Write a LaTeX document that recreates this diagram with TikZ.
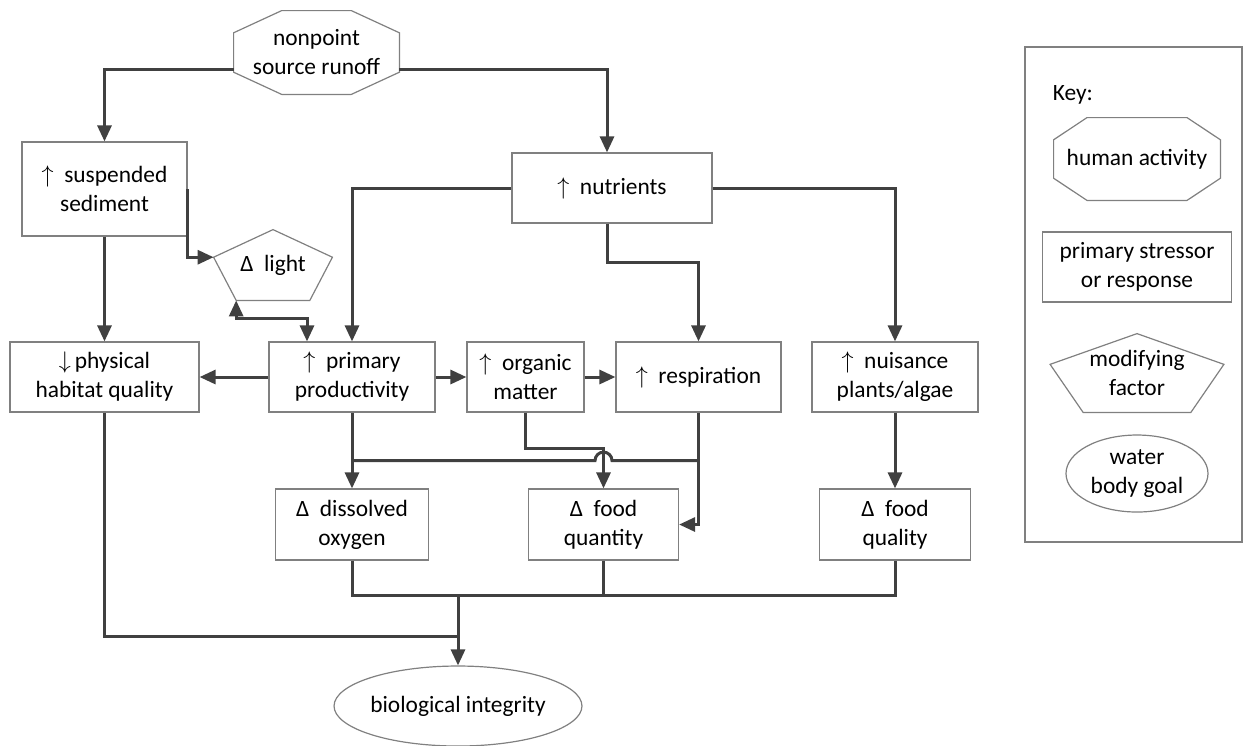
\documentclass[tikz,border=0pt]{standalone}
\usepackage{fontspec}
\setmainfont{Carlito}
\usepackage{tikz}
\usetikzlibrary{shapes,arrows,arrows.meta,calc,positioning}
\definecolor{linegray}{HTML}{404040}
\definecolor{framegray}{HTML}{808080}
\tikzstyle{Box} = [rectangle, minimum height=35pt, inner sep=0pt, draw=framegray, line width=0.6pt]
\tikzstyle{Oval} = [ellipse, inner sep=0pt, draw=framegray, line width=0.6pt]
\tikzstyle{Plain} = [rectangle, inner sep=0pt]
\tikzstyle{Frame} = [draw=framegray, line width=0.6pt]
\tikzstyle{line} = [line width=1.5pt, draw=linegray]
\tikzstyle{arrow} = [line, -{Triangle[length=8pt,width=7pt]}]
\tikzstyle{biarrow} = [line, {Triangle[length=8pt,width=7pt]}-{Triangle[length=8pt,width=7pt]}]
% pentagon outline round a plain node
\newcommand{\pentframe}[1]{
\coordinate (#1-t) at (#1.north);
\coordinate (#1-l) at ($(#1.north west)!0.39!(#1.south west)$);
\coordinate (#1-r) at ($(#1.north east)!0.39!(#1.south east)$);
\coordinate (#1-bl) at ($(#1.south west)!0.19!(#1.south east)$);
\coordinate (#1-br) at ($(#1.south east)!0.19!(#1.south west)$);
\draw[Frame](#1-t)--(#1-r)--(#1-br)--(#1-bl)--(#1-l)--cycle;
}
% octagon outline round a plain node: node, part cut in x, part cut in y
\newcommand{\octframe}[3]{
\draw[Frame]($(#1.north west)!#2!(#1.north east)$)--($(#1.north east)!#2!(#1.north west)$)
--($(#1.north east)!#3!(#1.south east)$)--($(#1.south east)!#3!(#1.north east)$)
--($(#1.south east)!#2!(#1.south west)$)--($(#1.south west)!#2!(#1.south east)$)
--($(#1.south west)!#3!(#1.north west)$)--($(#1.north west)!#3!(#1.south west)$)--cycle;
}

\begin{document}
\begin{tikzpicture}[every text node part/.style={align=center}, font=\fontsize{11.7}{14.5}\selectfont]
\useasboundingbox (0,0) rectangle (621.5pt,-372.5pt);

\node (Runoff)[Plain, minimum width=82.5pt, minimum height=41.5pt] at (158.25pt,-26.25pt){nonpoint\\source runoff};
\octframe{Runoff}{0.29}{0.265}
\node (Sediment)[Box, minimum width=82.5pt, minimum height=47pt, below of = Runoff, xshift=-106pt, yshift=-39.8pt]{$\uparrow$~ suspended\\sediment};
\node (Habitat)[Box, minimum width=94.5pt, below of = Sediment, yshift=-65.55pt]{$\downarrow$\,physical\\habitat quality};
\node (Productivity)[Box, minimum width=83pt, right of = Habitat, xshift=95.3pt]{$\uparrow$~ primary\\productivity};
\node (Organic Matter)[Box, minimum width=58.5pt, right of = Productivity, xshift=58.3pt]{$\uparrow$~ organic\\matter};
\node (Respiration)[Box, minimum width=82.5pt, right of = Organic Matter, xshift=58.05pt]{$\uparrow$~ respiration};
\node (Nuisance)[Box, minimum width=83pt, right of = Respiration, xshift=69.8pt]{$\uparrow$~ nuisance\\plants/algae};
\node (Nutrients)[Box, minimum width=100pt, above of = Respiration, xshift=-43.25pt, yshift=66.05pt]{$\uparrow$~ nutrients};
\node (Light)[Plain, minimum width=59pt, minimum height=35pt, above of = Productivity, xshift=-39.5pt, yshift=27.55pt]{Δ~ light};
\pentframe{Light}
\node (Dissolved Oxygen)[Box, minimum width=76.5pt, minimum height=35.5pt, below of = Productivity, yshift=-45.3pt]{Δ~ dissolved\\oxygen};
\node (Food Quantity)[Box, minimum width=75pt, minimum height=35.5pt, right of = Dissolved Oxygen, xshift=97.3pt]{Δ~ food\\quantity};
\node (Food Quality)[Box, minimum width=75.5pt, minimum height=35.5pt, below of = Nuisance, yshift=-45.3pt]{Δ~ food\\quality};
\node (Integrity)[Oval, minimum width=118.5pt, minimum height=40pt, below of = Dissolved Oxygen, xshift=53pt, yshift=-62.3pt]{biological integrity};

% key
\node (Key Box)[Box, minimum width=108.5pt, minimum height=247.5pt] at (566.75pt,-147.25pt){};
\node (Key Label)[Plain, anchor=west] at ([xshift=14pt,yshift=-24pt]Key Box.north west){Key:};
\node (Human Activity)[Plain, minimum width=83pt, minimum height=41pt] at (568.5pt,-79.5pt){human activity};
\octframe{Human Activity}{0.2}{0.268}
\node (Stressor)[Box, minimum width=94.5pt, below of = Human Activity, yshift=-25.55pt]{primary stressor\\or response};
\node (Modifying)[Plain, minimum width=86.5pt, minimum height=39pt, below of = Stressor, yshift=-24.55pt]{modifying\\factor};
\pentframe{Modifying}
\node (Water Body)[Oval, minimum width=71pt, minimum height=38.5pt, below of = Modifying, yshift=-21.8pt]{water\\body goal};

\draw[arrow]([yshift=-8.25pt]Runoff.west)-|(Sediment.north);
\draw[arrow]([yshift=-8.25pt]Runoff.east)-|([xshift=-2.5pt]Nutrients.north);
\draw[arrow](Sediment.south)--(Habitat.north);
\draw[arrow](Sediment.east)|-(Light-l);
\draw[biarrow](Light-bl)--++(0,-9pt)-|([xshift=-22.5pt]Productivity.north);
\draw[arrow](Nutrients.west)-|(Productivity.north);
\draw[arrow]([xshift=-2.5pt]Nutrients.south)--++(0,-19.5pt)-|(Respiration.north);
\draw[arrow](Nutrients.east)-|(Nuisance.north);
\draw[arrow](Productivity.west)--(Habitat.east);
\draw[arrow](Productivity.east)--(Organic Matter.west);
\draw[arrow](Organic Matter.east)--(Respiration.west);
\draw[arrow](Nuisance.south)--(Food Quality.north);
\draw[arrow](Productivity.south)--(Dissolved Oxygen.north);
\coordinate (Junction) at ([yshift=-24pt]Productivity.south);
\coordinate (Hop) at (Junction -| Food Quantity.north);
\draw[line](Junction)--([xshift=-4.25pt]Hop) arc (180:0:4.25pt)--(Junction -| Respiration.south);
\draw[arrow](Respiration.south)|-(Food Quantity.east);
\draw[arrow](Organic Matter.south)--++(0,-18pt)-|(Food Quantity.north);
\coordinate (Merge) at ([yshift=-17.5pt]Dissolved Oxygen.south);
\draw[line](Dissolved Oxygen.south)--(Merge)-|(Food Quality.south);
\draw[line](Food Quantity.south)--(Food Quantity.south |- Merge);
\draw[arrow](Integrity.north |- Merge)--(Integrity.north);
\draw[line](Habitat.south)|-([yshift=-20.5pt]Integrity.north |- Merge);

\end{tikzpicture}
\end{document}
